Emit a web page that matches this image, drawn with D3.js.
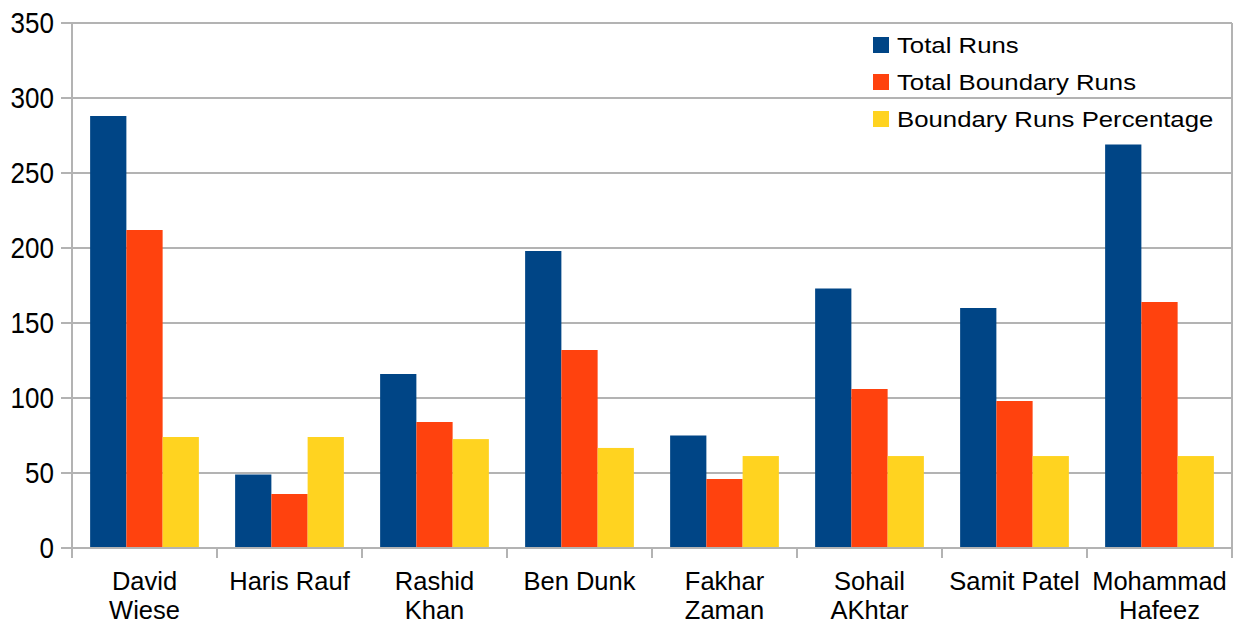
<!DOCTYPE html>
<html><head><meta charset="utf-8">
<script src="https://cdn.jsdelivr.net/npm/d3@7"></script>
<style>body{margin:0;background:#fff;}svg{display:block;font-family:"Liberation Sans",Arial,sans-serif;}</style>
</head><body><svg id="c" width="1238" height="621"></svg>
<script>
const categories = [["David","Wiese"],["Haris Rauf"],["Rashid","Khan"],["Ben Dunk"],["Fakhar","Zaman"],["Sohail","AKhtar"],["Samit Patel"],["Mohammad","Hafeez"]];
const seriesNames = ["Total Runs","Total Boundary Runs","Boundary Runs Percentage"];
const totalRuns = [288,49,116,198,75,173,160,269];
const boundaryRuns = [212,36,84,132,46,106,98,164];
const boundaryPct = [74,74,72.6,66.7,61.3,61.3,61.3,61.3];
const colors = ["#004586","#ff420e","#ffd320"];
const yTicks = [0,50,100,150,200,250,300,350];

const svg = d3.select("#c");
const m = {l:72, r:1232, t:23, b:548};
const x = d3.scaleBand().domain(d3.range(categories.length)).range([m.l,m.r]).paddingInner(0).paddingOuter(0);
const xs = d3.scaleBand().domain(d3.range(3)).range([0,x.bandwidth()]).paddingInner(0).paddingOuter(0.5);
const y = d3.scaleLinear().domain([0,350]).range([m.b,m.t]);
const grid = "#b3b3b3";

// gridlines
svg.append("g").selectAll("line").data(yTicks).join("line")
  .attr("x1",m.l-11).attr("x2",m.r).attr("y1",d=>y(d)).attr("y2",d=>y(d))
  .attr("stroke",grid).attr("stroke-width",1.2).attr("shape-rendering","crispEdges");
svg.append("g").selectAll("text").data(yTicks).join("text")
  .attr("transform",d=>`translate(54,${y(d)}) scale(1,1.1)`).attr("dy","0.36em").attr("text-anchor","end")
  .attr("font-size",26).attr("fill","#000").text(d=>d);

// bars
const data = [totalRuns,boundaryRuns,boundaryPct];
data.forEach((vals,si)=>{
  svg.append("g").selectAll("rect").data(vals).join("rect")
    .attr("x",(d,i)=>x(i)+xs(si)).attr("width",xs.bandwidth())
    .attr("y",d=>y(d)).attr("height",d=>y(0)-y(d)).attr("fill",colors[si]);
});

// axes
svg.append("line").attr("x1",m.l).attr("x2",m.l).attr("y1",m.t).attr("y2",m.b+10).attr("stroke",grid).attr("stroke-width",1.2).attr("shape-rendering","crispEdges");
svg.append("line").attr("x1",m.r).attr("x2",m.r).attr("y1",m.t).attr("y2",m.b+10).attr("stroke",grid).attr("stroke-width",1.2).attr("shape-rendering","crispEdges");
svg.append("line").attr("x1",m.l).attr("x2",m.r).attr("y1",m.b).attr("y2",m.b).attr("stroke",grid).attr("stroke-width",1.2).attr("shape-rendering","crispEdges");
svg.append("g").selectAll("line").data(d3.range(1,categories.length)).join("line")
  .attr("x1",d=>x(d)).attr("x2",d=>x(d)).attr("y1",m.b).attr("y2",m.b+10)
  .attr("stroke",grid).attr("stroke-width",1.2).attr("shape-rendering","crispEdges");

// category labels
const cl = svg.append("g").selectAll("text").data(categories).join("text")
  .attr("x",(d,i)=>x(i)+x.bandwidth()/2).attr("y",590).attr("text-anchor","middle")
  .attr("font-size",25.5).attr("fill","#000");
cl.selectAll("tspan").data(d=>d).join("tspan")
  .attr("x",function(){return this.parentNode.getAttribute("x");})
  .attr("dy",(d,i)=>i===0?0:29).text(d=>d);

// legend
const lg = svg.append("g").selectAll("g").data(seriesNames).join("g")
  .attr("transform",(d,i)=>`translate(873,${45+i*37})`);
lg.append("rect").attr("x",0).attr("y",-8).attr("width",16).attr("height",16).attr("fill",(d,i)=>colors[i]);
lg.append("text").attr("transform","translate(24,0) scale(1.12,1)").attr("dy","0.36em").attr("font-size",23).attr("fill","#000").text(d=>d);
</script></body></html>
